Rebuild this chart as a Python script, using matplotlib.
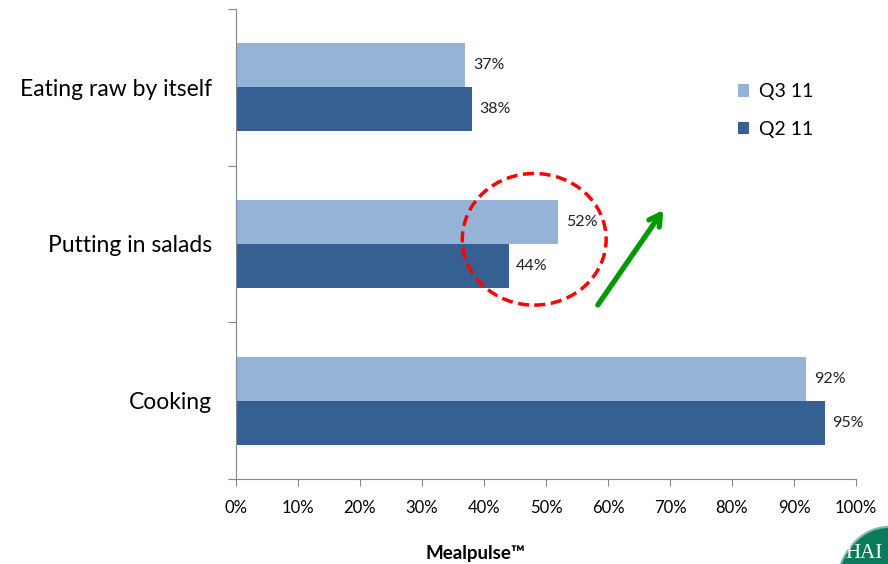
import matplotlib.pyplot as plt
from matplotlib.patches import Ellipse
from matplotlib.ticker import FixedLocator, PercentFormatter

categories = ["Cooking", "Putting in salads", "Eating raw by itself"]
q3_11 = [92, 52, 37]
q2_11 = [95, 44, 38]

light = "#95B3D7"
dark = "#376092"
grey = "#868686"

plt.rcParams["font.family"] = ["Lato", "DejaVu Sans"]

fig = plt.figure(figsize=(8.88, 5.64), dpi=100)
ax = fig.add_axes([236 / 888, 1 - 479 / 564, 620 / 888, 470 / 564])

h = 0.28
y = list(range(len(categories)))
b3 = ax.barh([i + h / 2 for i in y], q3_11, height=h, color=light, label="Q3 11")
b2 = ax.barh([i - h / 2 for i in y], q2_11, height=h, color=dark, label="Q2 11")

for bars, vals in ((b3, q3_11), (b2, q2_11)):
    for bar, v in zip(bars, vals):
        ax.text(v + 1.2, bar.get_y() + bar.get_height() / 2, f"{v}%",
                va="center", ha="left", fontsize=11.5, color="#222222")

ax.set_xlim(0, 100)
ax.set_ylim(-0.5, 2.5)
ax.xaxis.set_major_locator(FixedLocator(range(0, 101, 10)))
ax.xaxis.set_major_formatter(PercentFormatter(decimals=0))
ax.yaxis.set_major_locator(FixedLocator([-0.5, 0.5, 1.5, 2.5]))
ax.yaxis.set_major_formatter(plt.NullFormatter())
ax.yaxis.set_minor_locator(FixedLocator(y))
ax.set_yticklabels(categories, minor=True, fontsize=16.5)
ax.tick_params(axis="y", which="minor", length=0, pad=17)
ax.tick_params(axis="y", which="major", length=6, color=grey)
ax.tick_params(axis="x", length=5, color=grey, labelsize=12, pad=10)

for side in ("top", "right"):
    ax.spines[side].set_visible(False)
for side in ("left", "bottom"):
    ax.spines[side].set_color(grey)

# highlight around the salads bars and the upward trend arrow
ax.add_patch(Ellipse((48.1, 1.03), 23.2, 0.84, fill=False, edgecolor="#FF0000",
                     linewidth=2.5, linestyle=(0, (3.2, 1.6)), clip_on=False))
ax.annotate("", xy=(69.2, 1.232), xytext=(58.1, 0.596),
            arrowprops=dict(arrowstyle="->,head_length=0.8,head_width=0.45",
                            color="#009900", lw=3.8))

ax.legend(handles=[b3, b2], loc="upper left", bbox_to_anchor=(720 / 888, 1 - 66 / 564),
          bbox_transform=fig.transFigure, frameon=False, fontsize=14,
          handlelength=0.6, handleheight=0.6, handletextpad=0.5, labelspacing=1.05)

fig.text(475 / 888, 1 - 553 / 564, "Mealpulse™", ha="center", va="center",
         fontsize=13.5, fontweight="bold")

# corner logo
fig.patches.append(Ellipse((888 / 888, 1 - 595 / 564), 106 / 888, 136 / 564,
                           transform=fig.transFigure, facecolor="#0B7A5C",
                           edgecolor="#7FB8A4", linewidth=1.5))
fig.text(845 / 888, 1 - 553 / 564, "HAI", color="white", fontsize=15,
         family="Liberation Serif", va="center", ha="left")

fig.savefig("out.png")
